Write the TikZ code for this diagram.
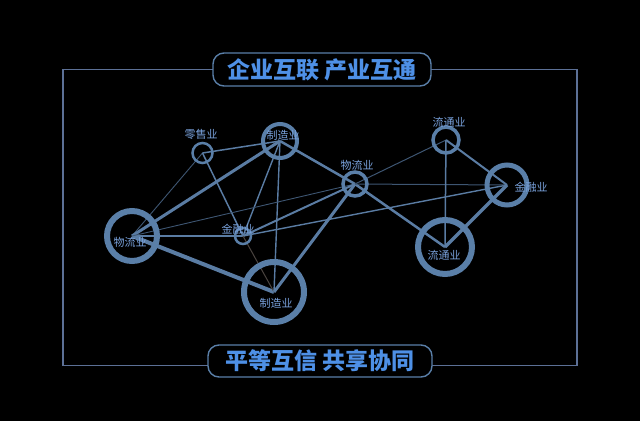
\documentclass[tikz,border=0pt]{standalone}
\usepackage{fontspec}
\newfontfamily\cjk{Noto Sans CJK SC}
\usetikzlibrary{positioning}
\pgfdeclarelayer{bg}
\pgfdeclarelayer{edges}
\pgfsetlayers{bg,edges,main}

\definecolor{ringblue}{HTML}{5A7FA8}
\definecolor{edgeblue}{HTML}{5A7CA3}
\definecolor{dimblue}{HTML}{3E5672}
\definecolor{dimbrown}{HTML}{4A4440}
\definecolor{labblue}{HTML}{7AA3DE}
\definecolor{titleblue}{HTML}{4E90E6}
\definecolor{framecol}{HTML}{5C7096}

\begin{document}
\begin{tikzpicture}[x=1pt, y=-1pt,
    hub/.style={circle, draw=ringblue, inner sep=0pt},
    lab/.style={text=labblue, font=\cjk\fontsize{11}{11}\selectfont, inner sep=0pt},
    pill/.style={draw=ringblue, line width=1.4pt, fill=black, rounded corners=11pt,
        minimum height=33pt, text=titleblue, font=\cjk\bfseries\fontsize{23}{23}\selectfont}]
    % background and outer frame
    \begin{pgfonlayer}{bg}
        \fill[black] (0,0) rectangle (640,421);
    \end{pgfonlayer}
    \useasboundingbox (0,0) rectangle (640,421);
    \draw[framecol, line width=1.3pt] (63,69.5) rectangle (577,365.5);

    % The industry rings
    \node (retail) at (202.5,153) [hub, minimum size=20pt, line width=2.5pt] {};
    \node (mfgA) at (280,141) [hub, minimum size=34pt, line width=4pt] {};
    \node (logA) at (132,236) [hub, minimum size=50pt, line width=6pt] {};
    \node (finA) at (243,236) [hub, minimum size=16pt, line width=2.5pt] {};
    \node (mfgB) at (274,292) [hub, minimum size=60pt, line width=6pt] {};
    \node (logB) at (355,184) [hub, minimum size=24pt, line width=3.5pt] {};
    \node (circA) at (446,140) [hub, minimum size=26pt, line width=3.5pt] {};
    \node (finB) at (507,185) [hub, minimum size=40pt, line width=5pt] {};
    \node (circB) at (445,247) [hub, minimum size=54pt, line width=6pt] {};

    % The links between them
    \begin{pgfonlayer}{edges}
        \draw[edgeblue, line width=1.5pt] (retail.center) -- (mfgA.center);
        \draw[dimblue, line width=0.9pt] (retail.center) -- (logA.center);
        \draw[edgeblue, line width=1.5pt] (retail.center) -- (finA.center);
        \draw[edgeblue, line width=3pt] (mfgA.center) -- (logA.center);
        \draw[edgeblue, line width=1.4pt] (mfgA.center) -- (finA.center);
        \draw[edgeblue, line width=1.4pt] (mfgA.center) -- (mfgB.center);
        \draw[edgeblue, line width=2.5pt] (mfgA.center) -- (logB.center);
        \draw[edgeblue, line width=2pt] (logA.center) -- (finA.center);
        \draw[edgeblue, line width=4pt] (logA.center) -- (mfgB.center);
        \draw[dimblue, line width=0.9pt] (logA.center) -- (logB.center);
        \draw[edgeblue, line width=2pt] (finA.center) -- (logB.center);
        \draw[edgeblue, line width=1.4pt] (finA.center) -- (finB.center);
        \draw[dimbrown, line width=1pt] (finA.center) -- (mfgB.center);
        \draw[edgeblue, line width=3pt] (logB.center) -- (mfgB.center);
        \draw[edgeblue, line width=2.5pt] (logB.center) -- (circB.center);
        \draw[dimblue, line width=1pt] (logB.center) -- (circA.center);
        \draw[dimblue, line width=1pt] (logB.center) -- (finB.center);
        \draw[edgeblue, line width=1.5pt] (circA.center) -- (circB.center);
        \draw[edgeblue, line width=2pt] (circA.center) -- (finB.center);
        \draw[edgeblue, line width=3.5pt] (finB.center) -- (circB.center);
    \end{pgfonlayer}

    % Names of the industries
    \node (retail-t) at (201,134) [lab] {零售业};
    \node (mfgA-t) at (283,135) [lab] {制造业};
    \node (logA-t) at (130,242) [lab] {物流业};
    \node (finA-t) at (238,229) [lab] {金融业};
    \node (mfgB-t) at (276,303) [lab] {制造业};
    \node (logB-t) at (357,165) [lab] {物流业};
    \node (circA-t) at (449,122) [lab] {流通业};
    \node (finB-t) at (531,187) [lab] {金融业};
    \node (circB-t) at (444,255) [lab] {流通业};

    % Headline and footline
    \node (head) at (322,69.5) [pill, minimum width=218pt] {企业互联 产业互通};
    \node (foot) at (320,361) [pill, minimum width=224pt, minimum height=32pt] {平等互信 共享协同};
\end{tikzpicture}
\end{document}
